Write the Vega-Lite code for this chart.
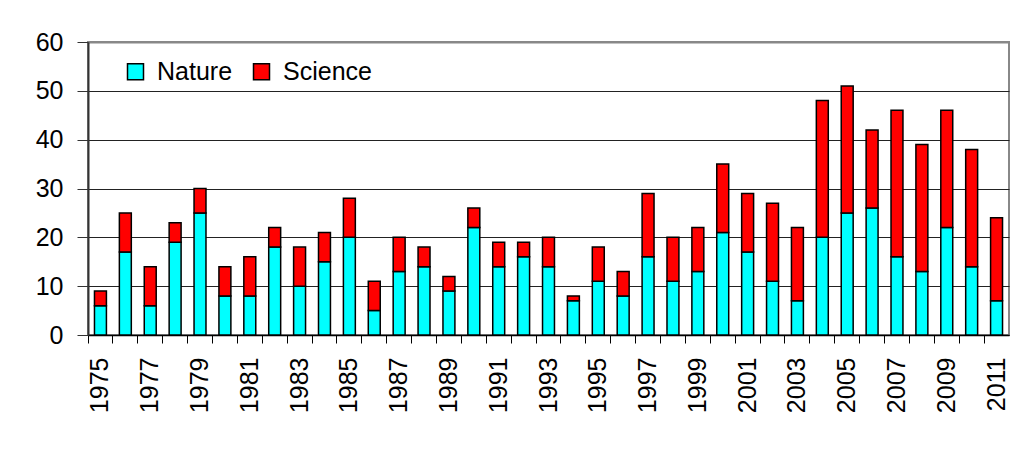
{
  "$schema": "https://vega.github.io/schema/vega-lite/v6.json",
  "width": 921,
  "height": 293,
  "autosize": {"type": "none"},
  "padding": {"left": 88, "top": 42, "right": 11, "bottom": 115},
  "background": "white",
  "config": {
    "font": "Liberation Sans",
    "view": {"stroke": "#888888", "strokeWidth": 2}
  },
  "data": {
    "values": [
      {"year": 1975, "journal": "Nature", "count": 6}, {"year": 1975, "journal": "Science", "count": 3},
      {"year": 1976, "journal": "Nature", "count": 17}, {"year": 1976, "journal": "Science", "count": 8},
      {"year": 1977, "journal": "Nature", "count": 6}, {"year": 1977, "journal": "Science", "count": 8},
      {"year": 1978, "journal": "Nature", "count": 19}, {"year": 1978, "journal": "Science", "count": 4},
      {"year": 1979, "journal": "Nature", "count": 25}, {"year": 1979, "journal": "Science", "count": 5},
      {"year": 1980, "journal": "Nature", "count": 8}, {"year": 1980, "journal": "Science", "count": 6},
      {"year": 1981, "journal": "Nature", "count": 8}, {"year": 1981, "journal": "Science", "count": 8},
      {"year": 1982, "journal": "Nature", "count": 18}, {"year": 1982, "journal": "Science", "count": 4},
      {"year": 1983, "journal": "Nature", "count": 10}, {"year": 1983, "journal": "Science", "count": 8},
      {"year": 1984, "journal": "Nature", "count": 15}, {"year": 1984, "journal": "Science", "count": 6},
      {"year": 1985, "journal": "Nature", "count": 20}, {"year": 1985, "journal": "Science", "count": 8},
      {"year": 1986, "journal": "Nature", "count": 5}, {"year": 1986, "journal": "Science", "count": 6},
      {"year": 1987, "journal": "Nature", "count": 13}, {"year": 1987, "journal": "Science", "count": 7},
      {"year": 1988, "journal": "Nature", "count": 14}, {"year": 1988, "journal": "Science", "count": 4},
      {"year": 1989, "journal": "Nature", "count": 9}, {"year": 1989, "journal": "Science", "count": 3},
      {"year": 1990, "journal": "Nature", "count": 22}, {"year": 1990, "journal": "Science", "count": 4},
      {"year": 1991, "journal": "Nature", "count": 14}, {"year": 1991, "journal": "Science", "count": 5},
      {"year": 1992, "journal": "Nature", "count": 16}, {"year": 1992, "journal": "Science", "count": 3},
      {"year": 1993, "journal": "Nature", "count": 14}, {"year": 1993, "journal": "Science", "count": 6},
      {"year": 1994, "journal": "Nature", "count": 7}, {"year": 1994, "journal": "Science", "count": 1},
      {"year": 1995, "journal": "Nature", "count": 11}, {"year": 1995, "journal": "Science", "count": 7},
      {"year": 1996, "journal": "Nature", "count": 8}, {"year": 1996, "journal": "Science", "count": 5},
      {"year": 1997, "journal": "Nature", "count": 16}, {"year": 1997, "journal": "Science", "count": 13},
      {"year": 1998, "journal": "Nature", "count": 11}, {"year": 1998, "journal": "Science", "count": 9},
      {"year": 1999, "journal": "Nature", "count": 13}, {"year": 1999, "journal": "Science", "count": 9},
      {"year": 2000, "journal": "Nature", "count": 21}, {"year": 2000, "journal": "Science", "count": 14},
      {"year": 2001, "journal": "Nature", "count": 17}, {"year": 2001, "journal": "Science", "count": 12},
      {"year": 2002, "journal": "Nature", "count": 11}, {"year": 2002, "journal": "Science", "count": 16},
      {"year": 2003, "journal": "Nature", "count": 7}, {"year": 2003, "journal": "Science", "count": 15},
      {"year": 2004, "journal": "Nature", "count": 20}, {"year": 2004, "journal": "Science", "count": 28},
      {"year": 2005, "journal": "Nature", "count": 25}, {"year": 2005, "journal": "Science", "count": 26},
      {"year": 2006, "journal": "Nature", "count": 26}, {"year": 2006, "journal": "Science", "count": 16},
      {"year": 2007, "journal": "Nature", "count": 16}, {"year": 2007, "journal": "Science", "count": 30},
      {"year": 2008, "journal": "Nature", "count": 13}, {"year": 2008, "journal": "Science", "count": 26},
      {"year": 2009, "journal": "Nature", "count": 22}, {"year": 2009, "journal": "Science", "count": 24},
      {"year": 2010, "journal": "Nature", "count": 14}, {"year": 2010, "journal": "Science", "count": 24},
      {"year": 2011, "journal": "Nature", "count": 7}, {"year": 2011, "journal": "Science", "count": 17}
    ]
  },
  "mark": {"type": "bar", "stroke": "black", "strokeWidth": 1.5, "width": {"band": 0.48}},
  "encoding": {
    "x": {
      "field": "year",
      "type": "ordinal",
      "scale": {"paddingInner": 0, "paddingOuter": 0},
      "axis": {
        "title": null,
        "bandPosition": 0,
        "labelAngle": -90,
        "labelFontSize": 25,
        "labelColor": "black",
        "labelPadding": 14,
        "labelExpr": "(toNumber(datum.value) - 1975) % 2 == 0 ? datum.label : ''",
        "tickSize": 8,
        "tickColor": "black",
        "tickWidth": 1,
        "domainColor": "black",
        "domainWidth": 1.5,
        "grid": false
      }
    },
    "y": {
      "field": "count",
      "type": "quantitative",
      "aggregate": "sum",
      "stack": "zero",
      "scale": {"domain": [0, 60], "nice": false},
      "axis": {
        "title": null,
        "values": [0, 10, 20, 30, 40, 50, 60],
        "labelFontSize": 25,
        "labelColor": "black",
        "labelPadding": 14,
        "tickSize": 11,
        "tickColor": "#333333",
        "domainColor": "#333333",
        "domainWidth": 2,
        "grid": true,
        "gridColor": {"condition": {"test": "datum.value == 60", "value": "#888888"}, "value": "#222222"},
        "gridWidth": {"condition": {"test": "datum.value == 60", "value": 2}, "value": 1}
      }
    },
    "color": {
      "field": "journal",
      "type": "nominal",
      "scale": {"domain": ["Nature", "Science"], "range": ["#00FFFF", "#FF0000"]},
      "legend": {
        "title": null,
        "orient": "none",
        "direction": "horizontal",
        "legendX": 35,
        "legendY": 17,
        "padding": 0,
        "symbolType": "square",
        "symbolSize": 256,
        "symbolStrokeColor": "black",
        "symbolStrokeWidth": 1.5,
        "symbolOpacity": 1,
        "labelFontSize": 25,
        "labelColor": "black",
        "labelOffset": 9,
        "columnPadding": 16
      }
    },
    "order": {"field": "journal", "sort": "ascending"}
  }
}
